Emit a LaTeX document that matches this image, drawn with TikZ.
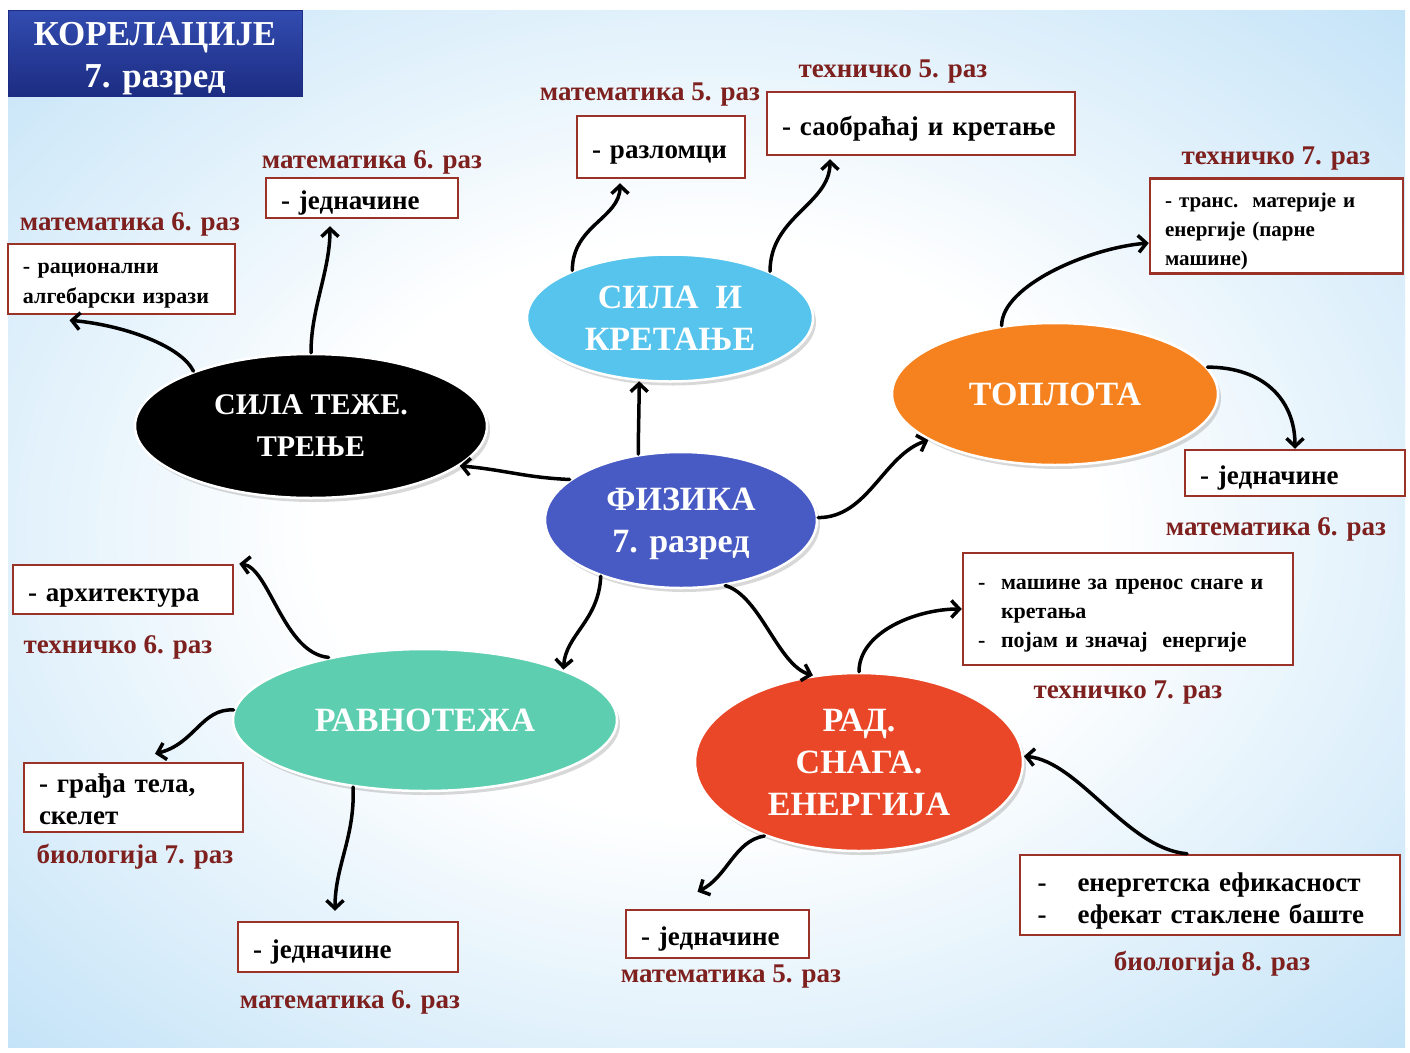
\documentclass[tikz,border=0pt]{standalone}
\usepackage{fontspec}
\setmainfont{Liberation Serif}
\usetikzlibrary{shapes.geometric,arrows.meta,shadows}
\definecolor{bgblue}{RGB}{135,198,240}
\definecolor{bglight}{RGB}{200,229,248}
\definecolor{boxred}{RGB}{155,50,40}
\definecolor{labred}{RGB}{125,32,30}
\definecolor{cSK}{RGB}{86,196,236}
\definecolor{cTOP}{RGB}{246,130,31}
\definecolor{cFIZ}{RGB}{72,90,196}
\definecolor{cRAV}{RGB}{93,206,176}
\definecolor{cRAD}{RGB}{233,71,40}
\definecolor{ttop}{RGB}{50,76,176}
\definecolor{tbot}{RGB}{28,44,130}
\pgfdeclareradialshading{bgshade}{\pgfpoint{0bp}{0bp}}{color(0bp)=(white); color(14bp)=(white); color(34bp)=(bglight); color(58bp)=(bgblue); color(72bp)=(bgblue)}
\tikzset{
  ell/.style={ellipse, draw=white, line width=2.5pt, inner sep=0pt, text=white, align=center,
    font=\fontsize{34}{42}\selectfont\bfseries,
    drop shadow={opacity=0.3, shadow xshift=3pt, shadow yshift=-4pt}},
  bx/.style={rectangle, draw=boxred, line width=2.5pt, fill=white, inner ysep=0pt, inner xsep=15pt,
    align=left, font=\fontsize{27}{32}\selectfont\bfseries,
    execute at begin node={\rule{0pt}{29pt}}},
  smallbx/.style={font=\fontsize{22}{30}\selectfont\bfseries,
    execute at begin node={\rule{0pt}{18pt}}},
  lab/.style={text=labred, inner sep=0pt, font=\fontsize{27}{30}\selectfont\bfseries},
  arr/.style={line width=3.5pt, line cap=round, -{Straight Barb[length=8pt,width=17pt]}}
}
\begin{document}
\begin{tikzpicture}[x=1pt,y=-1pt]
\useasboundingbox (0,0) rectangle (1410,1052);
\fill[white] (0,0) rectangle (1410,1052);
\shade[shading=bgshade] (8,10) rectangle (1405,1047);

% title
\node[top color=ttop, bottom color=tbot, draw=tbot, line width=1pt, minimum width=294pt, minimum height=86pt,
  inner sep=0pt] (title) at (155,53) {};
\node[inner sep=0pt, text=white, align=center, font=\fontsize{35}{42}\selectfont\bfseries] (titletext) at (155,59) {КОРЕЛАЦИЈЕ\\7. разред};

% ellipses
\node[ell, fill=cSK, minimum width=286pt, minimum height=127pt] (sk) at (670,318) {СИЛА\ \ И\\КРЕТАЊЕ};
\node[ell, fill=cTOP, minimum width=326pt, minimum height=142pt] (top) at (1055,394) {ТОПЛОТА};
\node[ell, fill=black, minimum width=352pt, minimum height=144pt, font=\fontsize{30}{42}\selectfont\bfseries] (st) at (311,426) {СИЛА ТЕЖЕ.\\ТРЕЊЕ};
\node[ell, fill=cFIZ, minimum width=272pt, minimum height=136pt] (fiz) at (681,520) {\rule{0pt}{30pt}ФИЗИКА\\7. разред};
\node[ell, fill=cRAV, minimum width=384pt, minimum height=142pt] (rav) at (425,720) {РАВНОТЕЖА};
\node[ell, fill=cRAD, minimum width=328pt, minimum height=178pt] (rad) at (859,762) {РАД.\\СНАГА.\\ЕНЕРГИЈА};

% boxes
\node[bx, smallbx, minimum width=227pt, minimum height=66pt, text width=197pt] (b1) at (121.5,279) {- рационални\\алгебарски изрази\rule[-11pt]{0pt}{1pt}};
\node[bx, minimum width=192pt, minimum height=40pt, text width=162pt] (b2) at (362,198) {- једначине};
\node[bx, minimum width=168pt, minimum height=62pt, text width=138pt] (b3) at (661,147) {- разломци};
\node[bx, minimum width=308pt, minimum height=63pt, text width=278pt] (b4) at (921,123.5) {- саобраћај и кретање};
\node[bx, smallbx, font=\fontsize{21}{29}\selectfont\bfseries, execute at begin node={\rule{0pt}{19pt}}, minimum width=253pt, minimum height=90pt, text width=223pt] (b5) at (1276.5,226) {- транс.\ \ материје и\\енергије (парне\\машине)\rule[-8pt]{0pt}{1pt}};
\node[bx, minimum width=220pt, minimum height=46pt, text width=190pt] (b6) at (1295,473) {- једначине};
\node[bx, smallbx, font=\fontsize{22}{29}\selectfont\bfseries, minimum width=330pt, minimum height=112pt, text width=300pt] (b7) at (1128,609)
  {\makebox[23pt][l]{-}машине за пренос снаге и\\\hspace*{23pt}кретања\\\makebox[23pt][l]{-}појам и значај\ \ енергије\rule[-11pt]{0pt}{1pt}};
\node[bx, minimum width=380pt, minimum height=80pt, text width=345pt, inner xsep=17.5pt, execute at begin node={\rule{0pt}{31pt}}] (b8) at (1210,895)
  {\makebox[40pt][l]{-}енергетска ефикасност\\\makebox[40pt][l]{-}ефекат стаклене баште};
\node[bx, minimum width=183pt, minimum height=48pt, text width=153pt] (b9) at (717.5,934) {- једначине};
\node[bx, minimum width=220pt, minimum height=50pt, text width=190pt] (b10) at (348,947) {- једначине};
\node[bx, minimum width=219pt, minimum height=65pt, text width=189pt, execute at begin node={\rule{0pt}{19pt}}] (b11) at (133.5,797.5) {- грађа тела,\\скелет\rule[-8pt]{0pt}{1pt}};
\node[bx, minimum width=220pt, minimum height=49pt, text width=190pt] (b12) at (123,589.5) {- архитектура};

% labels
\node[lab] (l1) at (130,224) {математика 6. раз};
\node[lab] (l2) at (372,162) {математика 6. раз};
\node[lab] (l3) at (650,95) {математика 5. раз};
\node[lab] (l4) at (893,72) {техничко 5. раз};
\node[lab] (l5) at (1276,159) {техничко 7. раз};
\node[lab] (l6) at (1276,529) {математика 6. раз};
\node[lab] (l7) at (1128,693) {техничко 7. раз};
\node[lab] (l8) at (1212,964) {биологија 8. раз};
\node[lab] (l9) at (731,977) {математика 5. раз};
\node[lab] (l10) at (350,1002) {математика 6. раз};
\node[lab] (l11) at (135,857) {биологија 7. раз};
\node[lab] (l12) at (118,647) {техничко 6. раз};

% connectors
\draw[arr] (fiz.160) .. controls +(-45,-2) and +(45,4) .. (st.-15);
\draw[arr] (fiz.123) .. controls +(0,-20) and +(0,25) .. (sk.-116);
\draw[arr] (fiz.1) .. controls +(50,0) and +(-45,15) .. (top.-160);
\draw[arr] (fiz.-145) .. controls +(-2,45) and +(2,-35) .. (rav.20);
\draw[arr] (fiz.-56) .. controls +(35,10) and +(-35,-10) .. (rad.118);
\draw[arr] (st.155) .. controls +(-12,-25) and +(55,5) .. ([xshift=-52pt,yshift=-5pt]b1.south);
\draw[arr] (st.north) .. controls +(0,-45) and +(0,45) .. ([xshift=-32pt,yshift=-7pt]b2.south);
\draw[arr] (sk.154) .. controls +(0,-45) and +(0,35) .. ([xshift=-41pt,yshift=-4pt]b3.south);
\draw[arr] (sk.25) .. controls +(0,-55) and +(0,45) .. ([xshift=-91pt,yshift=-3pt]b4.south);
\draw[arr] (top.128) .. controls +(0,-40) and +(-60,5) .. ([yshift=-17pt]b5.west);
\draw[arr] (top.10) .. controls +(55,0) and +(0,-50) .. (b6.north);
\draw[arr] (rav.177) .. controls +(-32,-2) and +(40,-10) .. ([xshift=21.5pt,yshift=8pt]b11.north);
\draw[arr] (rav.147) .. controls +(-45,-4) and +(30,4) .. ([xshift=5pt]b12.north east);
\draw[arr] (rav.-137) .. controls +(2,50) and +(0,-45) .. ([xshift=-13pt,yshift=10pt]b10.north);
\draw[arr] (rad.north) .. controls +(0,-40) and +(-45,0) .. (b7.west);
\draw[arr] (rad.-142) .. controls +(-30,5) and +(30,-15) .. ([xshift=-20pt,yshift=17pt]b9.north);
\draw[arr] ([xshift=-23pt]b8.north) .. controls +(-60,-5) and +(55,5) .. (rad.2);
\end{tikzpicture}
\end{document}
